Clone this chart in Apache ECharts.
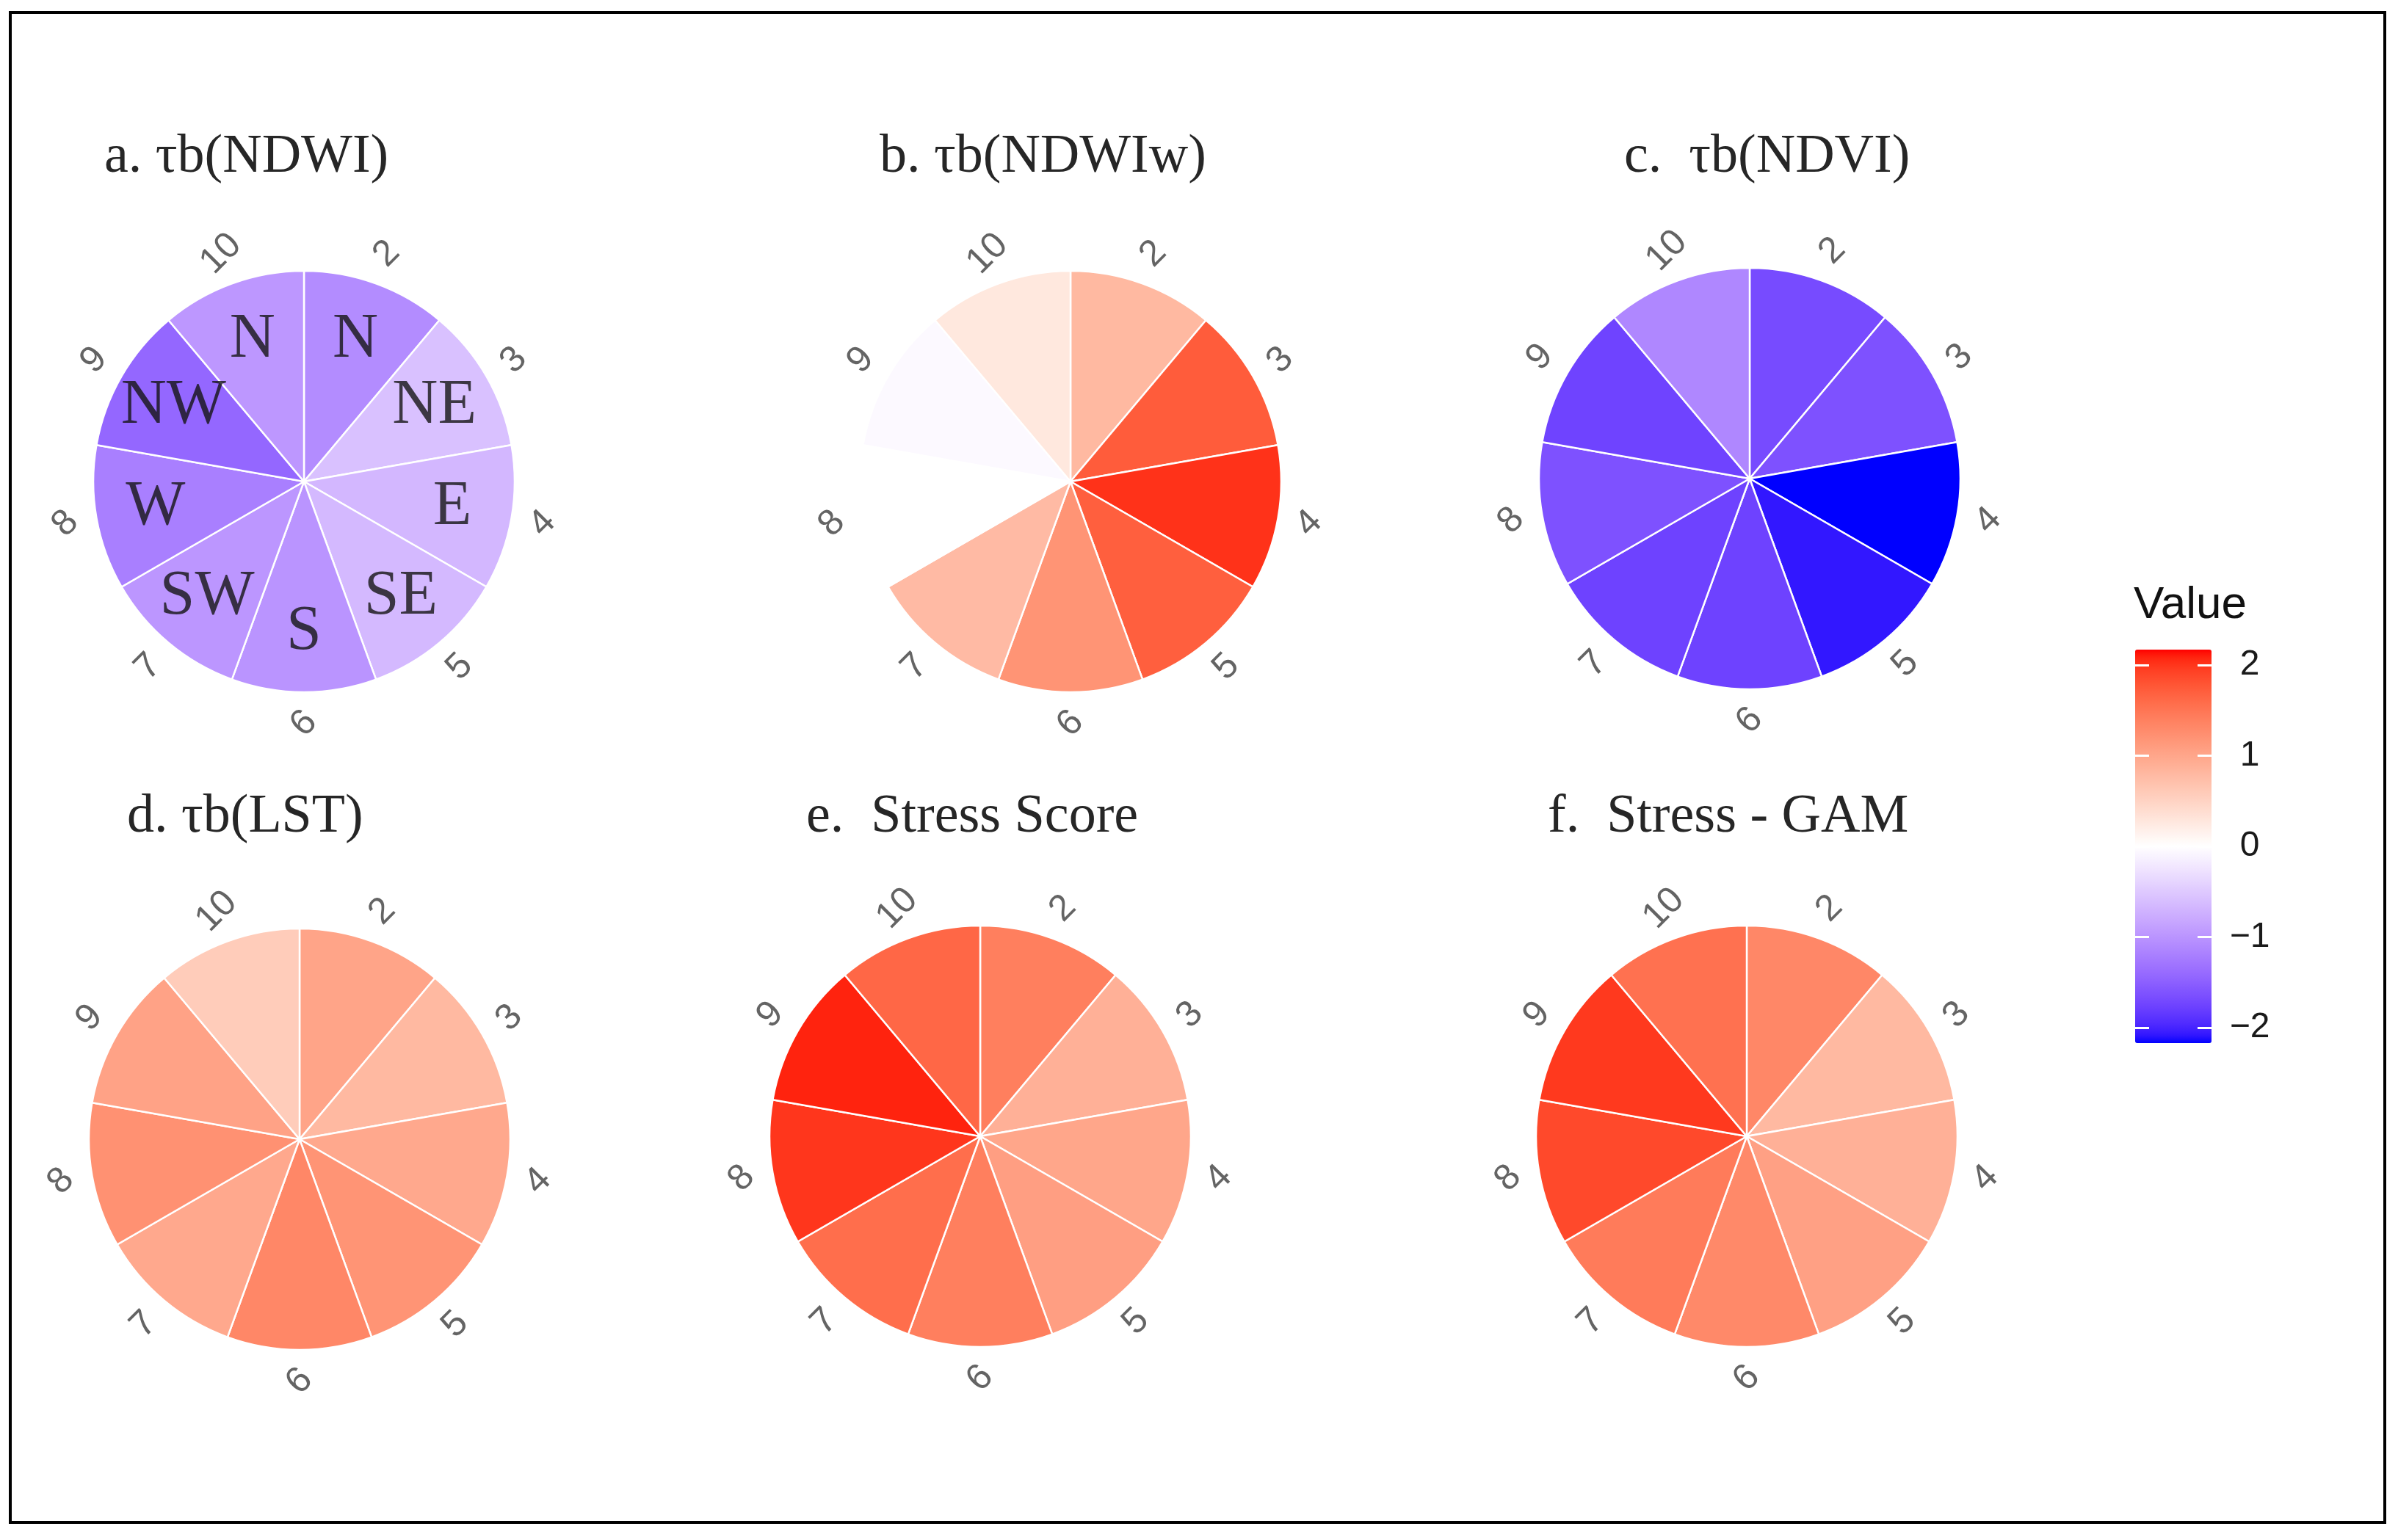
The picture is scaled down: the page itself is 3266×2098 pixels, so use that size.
<!DOCTYPE html>
<html><head><meta charset="utf-8">
<script src="https://cdn.jsdelivr.net/npm/echarts@6/dist/echarts.min.js"></script>
<style>html,body{margin:0;padding:0;background:#fff}#c{width:3266px;height:2098px}</style>
</head><body><div id="c"></div>
<script>
// ---------- data ----------
const categories = ['2','3','4','5','6','7','8','9','10'];
const compassLabels = ['N','NE','E','SE','S','SW','W','NW','N'];
const panelTitles = ['a. τb(NDWI)','b. τb(NDWIw)','c.  τb(NDVI)','d. τb(LST)','e.  Stress Score','f.  Stress - GAM'];
const ndwi        = [-1.08,-0.58,-0.67,-0.65,-1.00,-0.98,-1.20,-1.43,-0.97];
const ndwiw       = [ 0.80, 1.73, 2.02, 1.70, 1.19, 0.78, 0.00,-0.05, 0.27];
const ndvi        = [-1.69,-1.63,-2.17,-2.08,-1.76,-1.76,-1.63,-1.75,-1.13];
const lst         = [ 1.02, 0.80, 0.98, 1.19, 1.32, 0.98, 1.22, 1.04, 0.58];
const stressScore = [ 1.41, 0.89, 1.00, 1.08, 1.41, 1.57, 2.00, 2.09, 1.63];
const stressGam   = [ 1.32, 0.80, 0.89, 1.06, 1.30, 1.45, 1.87, 1.98, 1.54];
const legendTicks = [-2,-1,0,1,2];
const valueLimit = 2.17;
const legendTitle = 'Value';

// ---------- layout / style ----------
const panels = [ndwi, ndwiw, ndvi, lst, stressScore, stressGam];
const centers = [[414,656],[1458,656],[2383,652],[408,1552],[1335,1548],[2379,1548]];
const titlePos = [[142,215],[1198,215],[2212,215],[173,1114],[1098,1114],[2108,1114]];
const polarRadius = 330;      // radius of the label ring
const radiusMax = 1.15;       // radius axis max (pie at 1)
const fullRadius = 1;
const labelRadius = 1.15;
const compassRadius = 0.715;
const labelAngle = 45;        // constant text angle of the angle-axis labels
const serif = 'Liberation Serif';
const sans = 'Liberation Sans';

// Lab interpolation (like scales::gradient2 low=blue, mid=white, high=red)
function rgb2lab(r,g,b){
  const lin=c=>{c/=255;return c<=0.04045?c/12.92:Math.pow((c+0.055)/1.055,2.4);};
  const R=lin(r),G=lin(g),B=lin(b);
  const X=(0.4124*R+0.3576*G+0.1805*B)/0.95047, Y=(0.2126*R+0.7152*G+0.0722*B), Z=(0.0193*R+0.1192*G+0.9505*B)/1.08883;
  const f=t=>t>Math.pow(6/29,3)?Math.cbrt(t):t/(3*Math.pow(6/29,2))+4/29;
  return [116*f(Y)-16, 500*(f(X)-f(Y)), 200*(f(Y)-f(Z))];
}
function lab2rgb(L,a,b){
  const fy=(L+16)/116, fx=fy+a/500, fz=fy-b/200;
  const f=t=>t>6/29?t*t*t:3*Math.pow(6/29,2)*(t-4/29);
  const X=0.95047*f(fx), Y=f(fy), Z=1.08883*f(fz);
  const r=3.2406*X-1.5372*Y-0.4986*Z, g=-0.9689*X+1.8758*Y+0.0415*Z, bb=0.0557*X-0.2040*Y+1.0570*Z;
  const gam=c=>{c=Math.min(1,Math.max(0,c));return Math.round(255*(c<=0.0031308?12.92*c:1.055*Math.pow(c,1/2.4)-0.055));};
  return 'rgb('+gam(r)+','+gam(g)+','+gam(bb)+')';
}
const labW=rgb2lab(255,255,255), labR=rgb2lab(255,0,0), labB=rgb2lab(0,0,255);
const stops=[];
const NS=60;
for(let k=0;k<=NS;k++){
  const s=-1+2*k/NS;
  const target = s<0?labB:labR, t=Math.abs(s);
  stops.push(lab2rgb(labW[0]+(target[0]-labW[0])*t, labW[1]+(target[1]-labW[1])*t, labW[2]+(target[2]-labW[2])*t));
}

const polar=[], angleAxis=[], radiusAxis=[], series=[], barIdx=[], title=[];
panels.forEach((vals,p)=>{
  polar.push({center:centers[p], radius:polarRadius});
  angleAxis.push({polarIndex:p, type:'category', data:categories, startAngle:90, clockwise:true,
    axisLine:{show:false}, axisTick:{show:false}, axisLabel:{show:false}, splitLine:{show:false}, splitArea:{show:false}});
  radiusAxis.push({polarIndex:p, type:'value', min:0, max:radiusMax,
    axisLine:{show:false}, axisTick:{show:false}, axisLabel:{show:false}, splitLine:{show:false}, splitArea:{show:false}});
  barIdx.push(series.length);
  series.push({type:'bar', coordinateSystem:'polar', polarIndex:p, barCategoryGap:'0%', silent:true,
    data: categories.map((c,i)=>[fullRadius, i, vals[i]]),
    itemStyle:{borderColor:'#ffffff', borderWidth:2.5}});
  series.push({type:'scatter', coordinateSystem:'polar', polarIndex:p, symbolSize:1, silent:true, clip:false,
    itemStyle:{color:'rgba(0,0,0,0)'}, z:5,
    data: categories.map((c,i)=>[labelRadius,i]),
    label:{show:true, position:'inside', align:'center', verticalAlign:'middle', rotate:labelAngle,
      formatter:pr=>categories[pr.dataIndex], fontFamily:sans, fontSize:50, color:'#3d3d3d'}});
  title.push({text:panelTitles[p], left:titlePos[p][0], top:titlePos[p][1]-37, padding:0,
    textStyle:{fontFamily:serif, fontSize:74, lineHeight:74, fontWeight:'normal', color:'#262626'}});
});
// compass labels on panel a
series.push({type:'scatter', coordinateSystem:'polar', polarIndex:0, symbolSize:1, silent:true, clip:false,
  itemStyle:{color:'rgba(0,0,0,0)'}, z:6,
  data: categories.map((c,i)=>[compassRadius,i]),
  label:{show:true, position:'inside', align:'center', verticalAlign:'middle',
    formatter:pr=>compassLabels[pr.dataIndex], fontFamily:serif, fontSize:86, color:'#141414'}});

title.push({text:legendTitle, left:2906, top:794, padding:0,
  textStyle:{fontFamily:sans, fontSize:62, lineHeight:62, fontWeight:'normal', color:'#111'}});

const legendBox={left:2908, top:885, width:104, height:536};
const fmt=v=>v<0?'\u2212'+Math.abs(v):String(v);

const option={
  backgroundColor:'#ffffff',
  animation:false,
  title,
  polar, angleAxis, radiusAxis,
  grid:[{left:legendBox.left, top:legendBox.top, width:legendBox.width, height:legendBox.height}],
  xAxis:[{gridIndex:0, type:'value', show:false}],
  yAxis:[
    {gridIndex:0, type:'value', position:'left', min:-valueLimit, max:valueLimit, z:10,
      axisLine:{show:false}, splitLine:{show:false},
      axisTick:{show:true, inside:true, length:19, lineStyle:{color:'#ffffff', width:3}, customValues:legendTicks},
      axisLabel:{show:false}},
    {gridIndex:0, type:'value', position:'right', min:-valueLimit, max:valueLimit, z:10,
      axisLine:{show:false}, splitLine:{show:false},
      axisTick:{show:true, inside:true, length:19, lineStyle:{color:'#ffffff', width:3}, customValues:legendTicks},
      axisLabel:{show:true, customValues:legendTicks, margin:52, align:'center', formatter:fmt,
        fontFamily:sans, fontSize:48, color:'#1a1a1a'}}
  ],
  visualMap:[{type:'continuous', min:-valueLimit, max:valueLimit, dimension:2, seriesIndex:barIdx,
    left:legendBox.left, top:legendBox.top, itemWidth:legendBox.width, itemHeight:legendBox.height,
    padding:0, calculable:false, orient:'vertical', inRange:{color:stops}, hoverLink:false}],
  graphic:[{type:'rect', shape:{x:14, y:17, width:3234, height:2057}, style:{fill:'none', stroke:'#000', lineWidth:4}, z:100, silent:true}],
  series
};
const chart=echarts.init(document.getElementById('c'), null, {renderer:'canvas'});
chart.setOption(option);
</script></body></html>
